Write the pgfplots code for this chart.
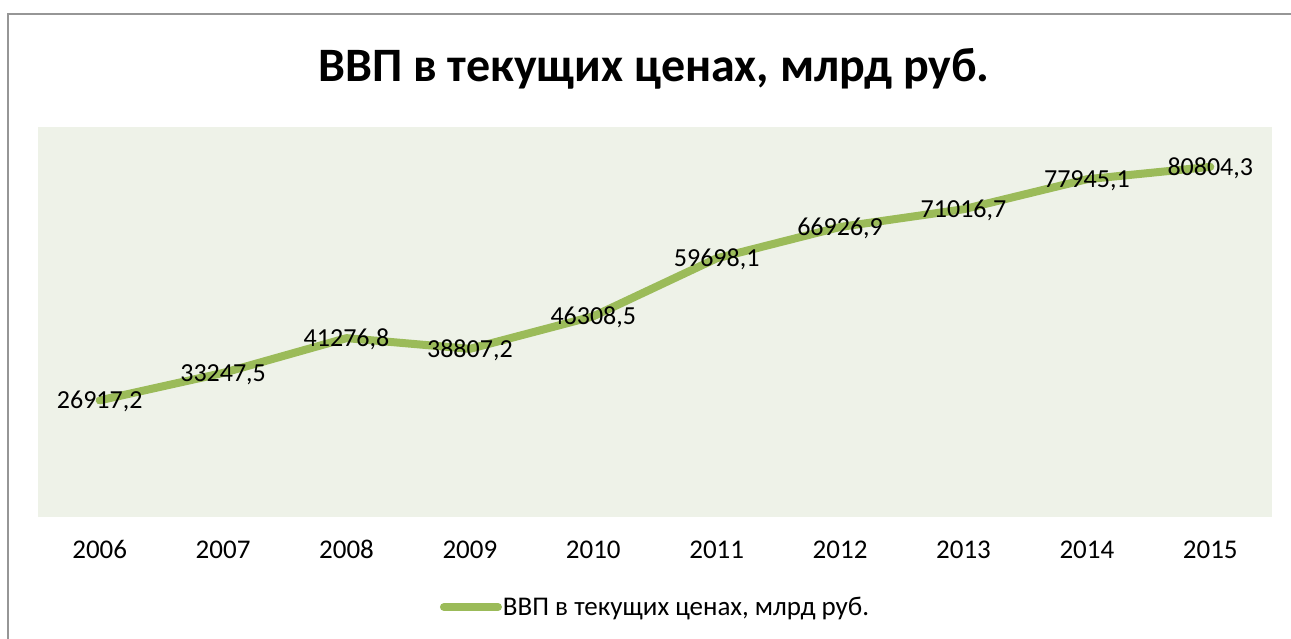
\documentclass[border=0pt]{standalone}
\usepackage{pgfplots}
\pgfplotsset{compat=1.18}
\usepackage{fontspec}
\setmainfont{Carlito}
\definecolor{linegreen}{HTML}{9BBB59}
\definecolor{bgcol}{RGB}{238,242,232}
\definecolor{framegray}{RGB}{150,150,150}
\begin{document}
\begin{tikzpicture}[x=1pt,y=1pt]
\path[use as bounding box] (0,0) rectangle (1291,639);
\draw[framegray, line width=2.5pt] (8,0) -- (8,625) -- (1291,625);
\node[font=\fontsize{48}{56}\selectfont\bfseries] at (654,570) {ВВП в текущих ценах, млрд руб.};
\begin{axis}[
  at={(38pt,122pt)}, anchor=south west,
  width=1234pt, height=390pt, scale only axis,
  xmin=-0.5, xmax=9.5, ymin=0, ymax=90000,
  axis background/.style={fill=bgcol, draw=none},
  axis line style={draw=none},
  ytick=\empty,
  xtick={0,...,9},
  xticklabels={2006,2007,2008,2009,2010,2011,2012,2013,2014,2015},
  major tick length=0pt,
  x tick label style={font=\fontsize{27}{31}\selectfont, anchor=center, text height=17pt, text depth=0pt, inner sep=0pt, yshift=-33pt},
  nodes near coords,
  every node near coord/.append style={font=\fontsize{26}{30}\selectfont, anchor=center, text height=17pt, text depth=0pt, inner sep=0pt, text=black},
  point meta=y,
  /pgf/number format/.cd, use comma, fixed, fixed zerofill, precision=1, 1000 sep={}, assume math mode=true,
  /pgfplots/.cd,
  legend style={at={(0.5,-0.2308)}, anchor=center, draw=none, fill=none, font=\fontsize{27}{31}\selectfont,
    nodes={inner sep=1pt}},
  legend image code/.code={\draw[linegreen, line width=8pt, line cap=round] (0pt,0pt) -- (54pt,0pt);},
]
\addplot[linegreen, line width=8pt, line cap=round, line join=round, mark=none] coordinates {
(0,26917.2) (1,33247.5) (2,41276.8) (3,38807.2) (4,46308.5)
(5,59698.1) (6,66926.9) (7,71016.7) (8,77945.1) (9,80804.3)
};
\addlegendentry{ВВП в текущих ценах, млрд руб.}
\end{axis}
\end{tikzpicture}
\end{document}
